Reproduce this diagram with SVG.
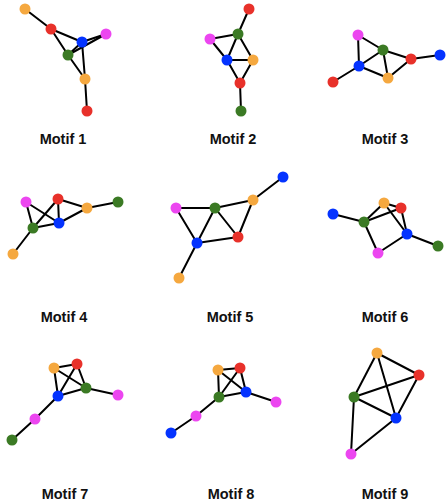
<svg xmlns="http://www.w3.org/2000/svg" width="446" height="502" viewBox="0 0 446 502">
<style>
.e line{stroke:#000;stroke-width:2;stroke-linecap:round}
circle{r:5.5}
.o{fill:#F5A83F}.r{fill:#E8312A}.b{fill:#0433FF}.m{fill:#EC46F0}.g{fill:#3B7A24}
text{font-family:"Liberation Sans",Arial,sans-serif;font-weight:bold;font-size:14.5px;text-anchor:middle;fill:#111}
</style>
<rect width="446" height="502" fill="#fff"/>
<g id="connectors" class="e">
<!-- Motif 1 -->
<line x1="25" y1="9" x2="51" y2="29"/><line x1="51" y1="29" x2="82" y2="42"/><line x1="51" y1="29" x2="68" y2="55"/>
<line x1="68" y1="55" x2="82" y2="42"/><line x1="68" y1="55" x2="106" y2="34"/><line x1="82" y1="42" x2="106" y2="34"/>
<line x1="68" y1="55" x2="85" y2="79"/><line x1="82" y1="42" x2="85" y2="79"/><line x1="85" y1="79" x2="87" y2="111"/>
<!-- Motif 2 -->
<line x1="249" y1="9" x2="238" y2="34"/><line x1="238" y1="34" x2="210" y2="39"/><line x1="238" y1="34" x2="227" y2="60"/>
<line x1="238" y1="34" x2="253" y2="60"/><line x1="210" y1="39" x2="227" y2="60"/><line x1="227" y1="60" x2="253" y2="60"/>
<line x1="227" y1="60" x2="240" y2="83"/><line x1="253" y1="60" x2="240" y2="83"/><line x1="240" y1="83" x2="241" y2="111"/>
<!-- Motif 3 -->
<line x1="358" y1="35" x2="383" y2="50"/><line x1="358" y1="35" x2="359" y2="66"/><line x1="383" y1="50" x2="359" y2="66"/>
<line x1="383" y1="50" x2="388" y2="78"/><line x1="383" y1="50" x2="411" y2="59"/><line x1="359" y1="66" x2="388" y2="78"/>
<line x1="388" y1="78" x2="411" y2="59"/><line x1="411" y1="59" x2="440" y2="55"/><line x1="359" y1="66" x2="333" y2="82"/>
<!-- Motif 4 -->
<line x1="26" y1="202" x2="33" y2="228"/><line x1="26" y1="202" x2="59" y2="223"/><line x1="58" y1="199" x2="33" y2="228"/>
<line x1="58" y1="199" x2="59" y2="223"/><line x1="58" y1="199" x2="87" y2="208"/><line x1="59" y1="223" x2="87" y2="208"/>
<line x1="33" y1="228" x2="59" y2="223"/><line x1="87" y1="208" x2="118" y2="202"/><line x1="33" y1="228" x2="13" y2="254"/>
<!-- Motif 5 -->
<line x1="283" y1="177" x2="253" y2="200"/><line x1="253" y1="200" x2="215" y2="208"/><line x1="253" y1="200" x2="238" y2="237"/>
<line x1="176" y1="208" x2="215" y2="208"/><line x1="176" y1="208" x2="197" y2="243"/><line x1="215" y1="208" x2="197" y2="243"/>
<line x1="215" y1="208" x2="238" y2="237"/><line x1="197" y1="243" x2="238" y2="237"/><line x1="197" y1="243" x2="179" y2="278"/>
<!-- Motif 6 -->
<line x1="333" y1="214" x2="364" y2="222"/><line x1="364" y1="222" x2="384" y2="203"/><line x1="364" y1="222" x2="401" y2="208"/>
<line x1="364" y1="222" x2="378" y2="253"/><line x1="384" y1="203" x2="401" y2="208"/><line x1="384" y1="203" x2="407" y2="234"/>
<line x1="401" y1="208" x2="407" y2="234"/><line x1="378" y1="253" x2="407" y2="234"/><line x1="407" y1="234" x2="438" y2="246"/>
<!-- Motif 7 -->
<line x1="54" y1="368" x2="77" y2="364"/><line x1="54" y1="368" x2="58" y2="396"/><line x1="54" y1="368" x2="86" y2="388"/>
<line x1="77" y1="364" x2="58" y2="396"/><line x1="77" y1="364" x2="86" y2="388"/><line x1="58" y1="396" x2="86" y2="388"/>
<line x1="86" y1="388" x2="118" y2="395"/><line x1="58" y1="396" x2="35" y2="419"/><line x1="35" y1="419" x2="12" y2="440"/>
<!-- Motif 8 -->
<line x1="218" y1="370" x2="240" y2="368"/><line x1="218" y1="370" x2="219" y2="397"/><line x1="218" y1="370" x2="246" y2="392"/>
<line x1="240" y1="368" x2="219" y2="397"/><line x1="240" y1="368" x2="246" y2="392"/><line x1="219" y1="397" x2="246" y2="392"/>
<line x1="246" y1="392" x2="276" y2="402"/><line x1="219" y1="397" x2="196" y2="416"/><line x1="196" y1="416" x2="171" y2="433"/>
<!-- Motif 9 -->
<line x1="377" y1="353" x2="419" y2="375"/><line x1="377" y1="353" x2="354" y2="397"/><line x1="377" y1="353" x2="396" y2="418"/>
<line x1="354" y1="397" x2="419" y2="375"/><line x1="354" y1="397" x2="396" y2="418"/><line x1="419" y1="375" x2="396" y2="418"/>
<line x1="354" y1="397" x2="351" y2="454"/><line x1="396" y1="418" x2="351" y2="454"/>
</g>
<g id="motif1"><circle class="o" cx="25" cy="9"/><circle class="r" cx="51" cy="29"/><circle class="b" cx="82" cy="42"/><circle class="m" cx="106" cy="34"/><circle class="g" cx="68" cy="55"/><circle class="o" cx="85" cy="79"/><circle class="r" cx="87" cy="111"/><text x="63" y="144">Motif 1</text></g>
<g id="motif2"><circle class="r" cx="249" cy="9"/><circle class="g" cx="238" cy="34"/><circle class="m" cx="210" cy="39"/><circle class="b" cx="227" cy="60"/><circle class="o" cx="253" cy="60"/><circle class="r" cx="240" cy="83"/><circle class="g" cx="241" cy="111"/><text x="233" y="144">Motif 2</text></g>
<g id="motif3"><circle class="m" cx="358" cy="35"/><circle class="g" cx="383" cy="50"/><circle class="r" cx="411" cy="59"/><circle class="b" cx="440" cy="55"/><circle class="b" cx="359" cy="66"/><circle class="o" cx="388" cy="78"/><circle class="r" cx="333" cy="82"/><text x="385" y="144">Motif 3</text></g>
<g id="motif4"><circle class="m" cx="26" cy="202"/><circle class="r" cx="58" cy="199"/><circle class="o" cx="87" cy="208"/><circle class="g" cx="118" cy="202"/><circle class="b" cx="59" cy="223"/><circle class="g" cx="33" cy="228"/><circle class="o" cx="13" cy="254"/><text x="64" y="321.5">Motif 4</text></g>
<g id="motif5"><circle class="b" cx="283" cy="177"/><circle class="o" cx="253" cy="200"/><circle class="m" cx="176" cy="208"/><circle class="g" cx="215" cy="208"/><circle class="r" cx="238" cy="237"/><circle class="b" cx="197" cy="243"/><circle class="o" cx="179" cy="278"/><text x="230" y="321.5">Motif 5</text></g>
<g id="motif6"><circle class="o" cx="384" cy="203"/><circle class="r" cx="401" cy="208"/><circle class="b" cx="333" cy="214"/><circle class="g" cx="364" cy="222"/><circle class="b" cx="407" cy="234"/><circle class="g" cx="438" cy="246"/><circle class="m" cx="378" cy="253"/><text x="385" y="321.5">Motif 6</text></g>
<g id="motif7"><circle class="o" cx="54" cy="368"/><circle class="r" cx="77" cy="364"/><circle class="g" cx="86" cy="388"/><circle class="m" cx="118" cy="395"/><circle class="b" cx="58" cy="396"/><circle class="m" cx="35" cy="419"/><circle class="g" cx="12" cy="440"/><text x="65" y="498.5">Motif 7</text></g>
<g id="motif8"><circle class="o" cx="218" cy="370"/><circle class="r" cx="240" cy="368"/><circle class="b" cx="246" cy="392"/><circle class="m" cx="276" cy="402"/><circle class="g" cx="219" cy="397"/><circle class="m" cx="196" cy="416"/><circle class="b" cx="171" cy="433"/><text x="231" y="498.5">Motif 8</text></g>
<g id="motif9"><circle class="o" cx="377" cy="353"/><circle class="r" cx="419" cy="375"/><circle class="g" cx="354" cy="397"/><circle class="b" cx="396" cy="418"/><circle class="m" cx="351" cy="454"/><text x="385" y="498.5">Motif 9</text></g>
</svg>
